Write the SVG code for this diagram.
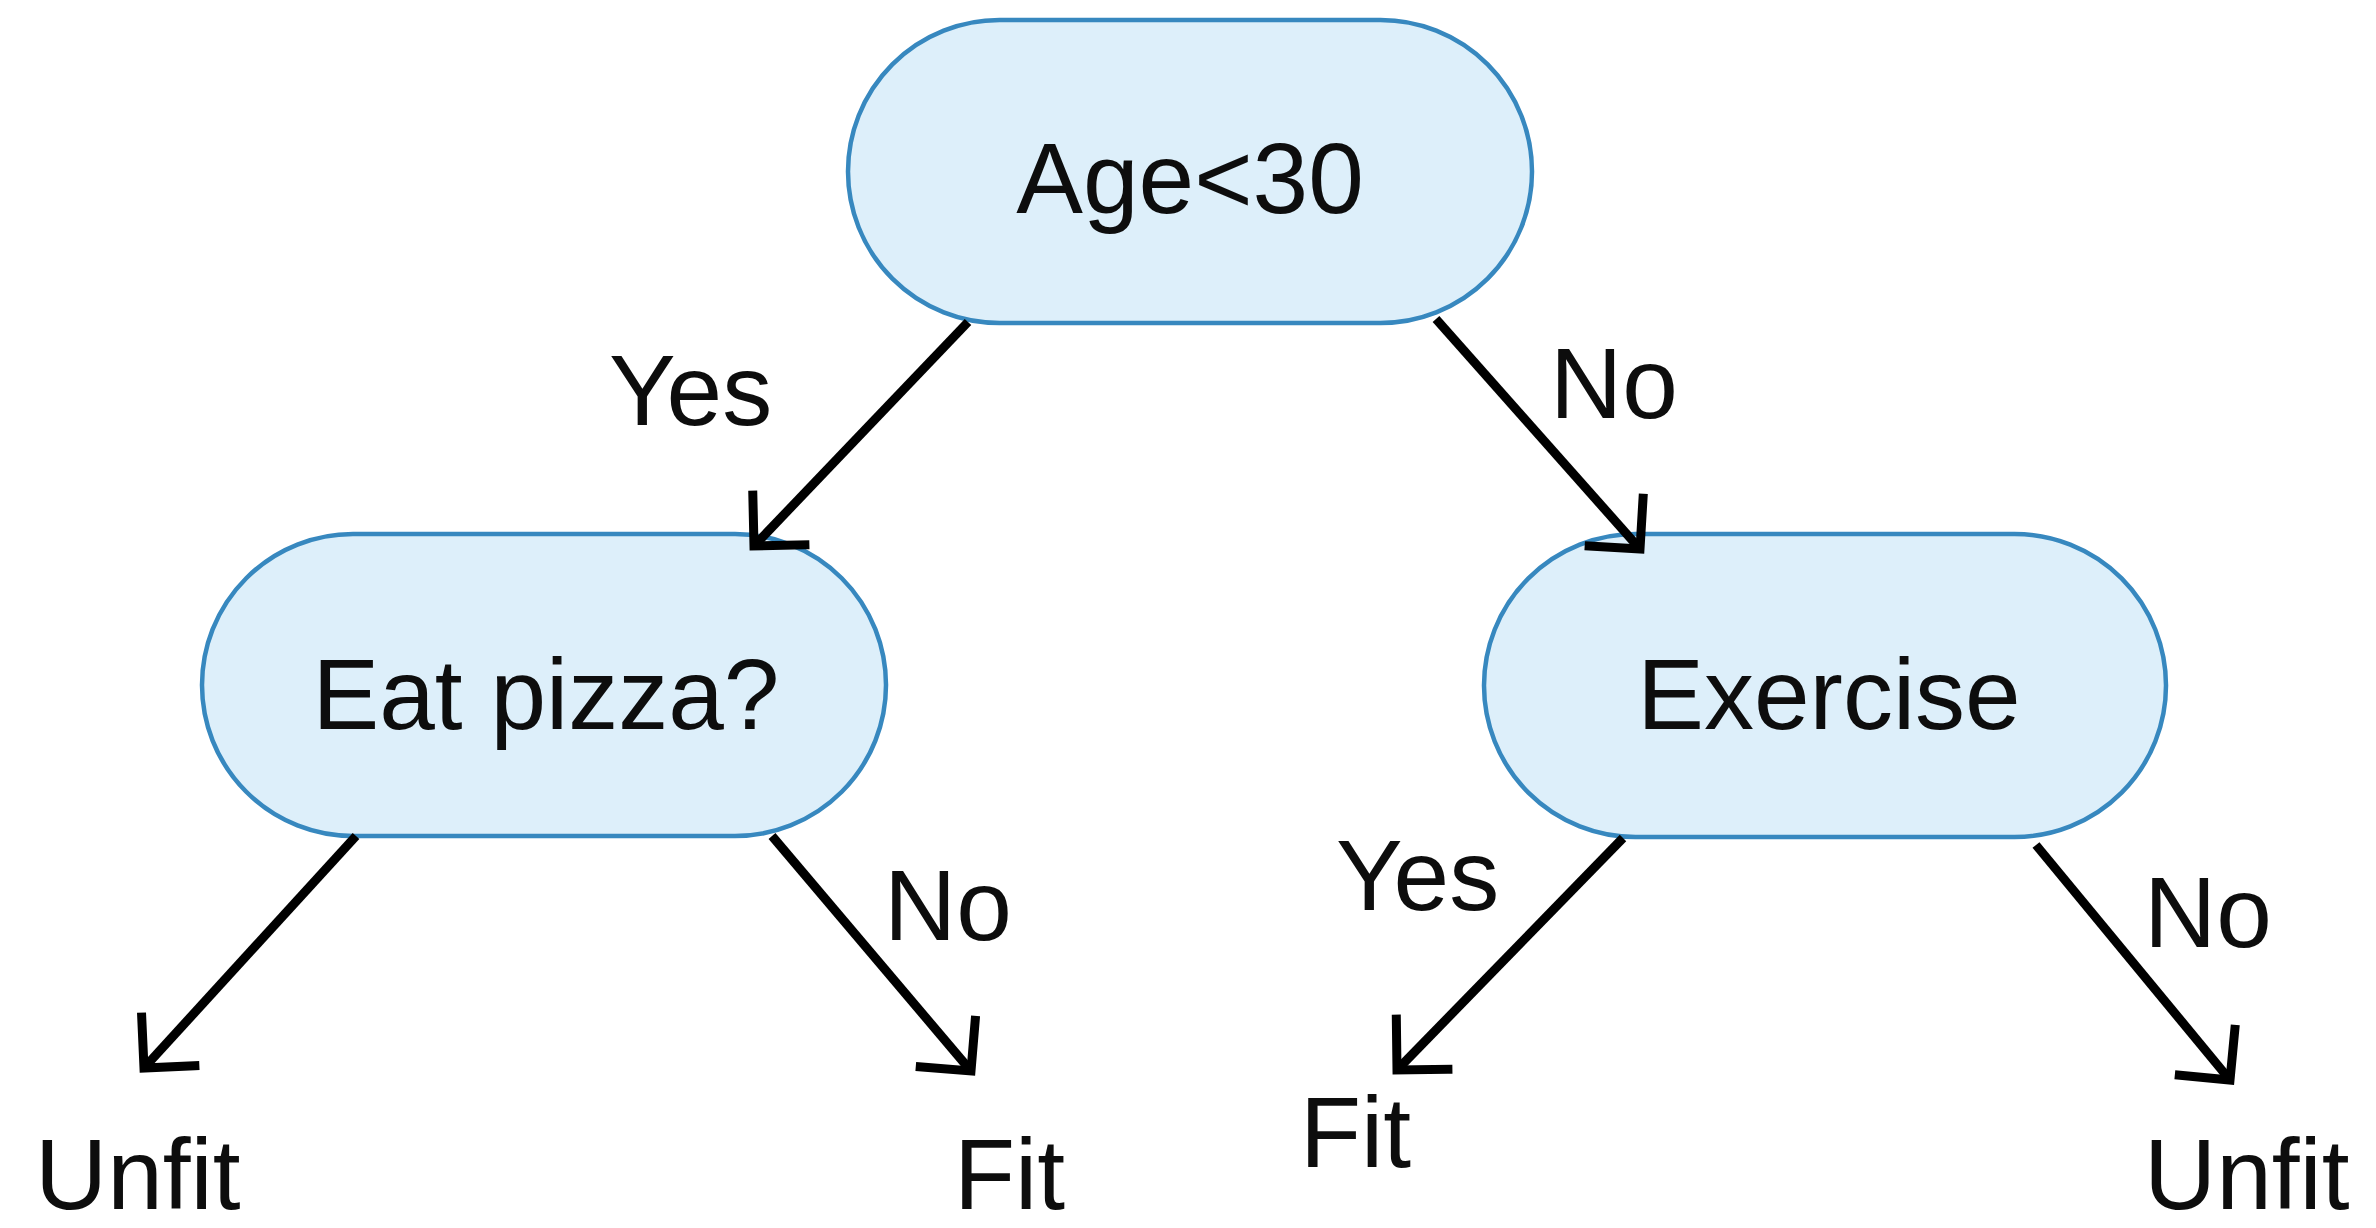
<svg xmlns="http://www.w3.org/2000/svg" width="2376" height="1228" viewBox="0 0 2376 1228">
  <style>
    .node rect { fill: #ddeffa; stroke: #3788bf; stroke-width: 4.5; }
    text { font-family: "Liberation Sans", Arial, sans-serif; font-size: 100px; fill: #0d0d0d; }
    .node text { text-anchor: middle; }
    .edge { stroke: #000000; stroke-width: 9; fill: none; marker-end: url(#chevron); }
  </style>
  <defs>
    <marker id="chevron" markerUnits="userSpaceOnUse" viewBox="-60 -60 80 120" markerWidth="80" markerHeight="120" refX="0" refY="0" orient="auto" overflow="visible">
      <path d="M -36 -36 L 0 0 L -36 36" fill="none" stroke="#000000" stroke-width="9" stroke-linecap="square" stroke-linejoin="miter"/>
    </marker>
  </defs>
  <rect x="0" y="0" width="2376" height="1228" fill="#ffffff"/>

  <g id="node-age" class="node">
    <rect x="848" y="20" width="684" height="303" rx="151.5" ry="151.5"/>
    <text x="1190" y="213">Age&lt;30</text>
  </g>
  <g id="node-eat-pizza" class="node">
    <rect x="202" y="534" width="684" height="302" rx="151" ry="151"/>
    <text x="546" y="729">Eat pizza?</text>
  </g>
  <g id="node-exercise" class="node">
    <rect x="1484" y="534" width="682" height="303" rx="151.5" ry="151.5"/>
    <text x="1829" y="729">Exercise</text>
  </g>

  <g id="leaf-unfit-left">
    <text x="35" y="1209">Unfit</text>
  </g>
  <g id="leaf-fit-left">
    <text x="954" y="1209">Fit</text>
  </g>
  <g id="leaf-fit-right">
    <text x="1300" y="1167">Fit</text>
  </g>
  <g id="leaf-unfit-right">
    <text x="2144" y="1209">Unfit</text>
  </g>

  <!-- connectors sit above the nodes so arrowheads show over the borders -->
  <g id="connectors">
    <line class="edge" x1="968" y1="322" x2="754" y2="546"/>
    <line class="edge" x1="1436" y1="319" x2="1640" y2="549"/>
    <line class="edge" x1="356" y1="836" x2="144" y2="1068"/>
    <line class="edge" x1="772" y1="836" x2="971" y2="1071"/>
    <line class="edge" x1="1623" y1="838" x2="1397" y2="1070"/>
    <line class="edge" x1="2036" y1="845" x2="2230" y2="1080"/>
  </g>

  <g id="edge-labels">
    <text x="609" y="425">Yes</text>
    <text x="1550" y="418">No</text>
    <text x="884" y="940">No</text>
    <text x="1336" y="910">Yes</text>
    <text x="2144" y="947">No</text>
  </g>
</svg>
